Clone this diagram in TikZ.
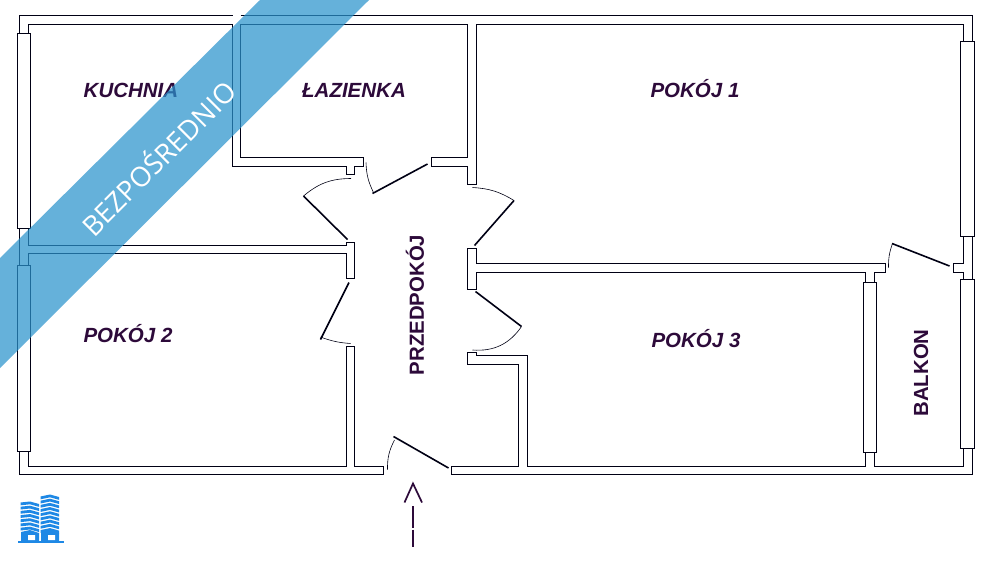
\documentclass[tikz,border=0pt]{standalone}
\usepackage{fontspec}
\setmainfont{Liberation Sans}
\newfontfamily\bannerfont{Open Sans}
\tikzset{
    wall/.style={plan,line width=1.1pt,line join=miter},
    doorleaf/.style={plan,line width=1.6pt},
    doorswing/.style={plan,line width=0.6pt},
    roomlabel/.style={text=labelc,font=\bfseries\itshape\fontsize{20.5}{20.5}\selectfont,inner sep=0pt},
    hallabel/.style={text=labelc,font=\bfseries\fontsize{20.4}{20.4}\selectfont,inner sep=0pt,rotate=90}
}
\begin{document}
\begin{tikzpicture}[x=1pt,y=-1pt]
    %colores
    \colorlet{plan}{black!92!blue}
    \definecolor{labelc}{HTML}{2D0A3A}
    \definecolor{bannerc}{HTML}{2A93CD}
    \definecolor{logoc}{HTML}{1E88E5}

    \useasboundingbox[fill=white] (0,0) rectangle (996,560);

    % Muros exteriores
    \draw[wall] (19.5,33.5) -- (19.5,15.5) -- (232.5,15.5);
    \draw[wall] (240.5,15.5) -- (972.5,15.5) -- (972.5,41.5);
    \draw[wall] (972.5,236.5) -- (972.5,279.5);
    \draw[wall] (972.5,448.5) -- (972.5,474.5) -- (451.5,474.5) -- (451.5,466.5) -- (518.5,466.5)
        -- (518.5,364.5) -- (467.5,364.5) -- (467.5,352.5) -- (476.5,352.5) -- (476.5,355.5) -- (527.5,355.5)
        -- (527.5,466.5) -- (865.5,466.5) -- (865.5,452.5);
    \draw[wall] (874.5,452.5) -- (874.5,466.5) -- (963.5,466.5) -- (963.5,448.5);
    \draw[wall] (19.5,451.5) -- (19.5,474.5) -- (383.5,474.5) -- (383.5,466.5) -- (354.5,466.5)
        -- (354.5,346.5) -- (346.5,346.5) -- (346.5,466.5) -- (28.5,466.5) -- (28.5,451.5);
    \draw[wall] (19.5,228.5) -- (19.5,265.5);

    % Muros interiores
    \draw[wall] (28.5,33.5) -- (28.5,24.5) -- (232.5,24.5) -- (232.5,166.5) -- (346.5,166.5) -- (346.5,174.5)
        -- (354.5,174.5) -- (354.5,166.5) -- (363.5,166.5) -- (363.5,157.5) -- (240.5,157.5) -- (240.5,24.5)
        -- (467.5,24.5) -- (467.5,157.5) -- (431.5,157.5) -- (431.5,166.5) -- (467.5,166.5) -- (467.5,184.5)
        -- (476.5,184.5) -- (476.5,24.5) -- (963.5,24.5) -- (963.5,41.5);
    \draw[wall] (28.5,228.5) -- (28.5,245.5) -- (346.5,245.5) -- (346.5,242.5) -- (354.5,242.5)
        -- (354.5,278.5) -- (346.5,278.5) -- (346.5,253.5) -- (28.5,253.5) -- (28.5,265.5);
    \draw[wall] (865.5,282.5) -- (865.5,272.5) -- (476.5,272.5) -- (476.5,289.5) -- (467.5,289.5)
        -- (467.5,248.5) -- (476.5,248.5) -- (476.5,263.5) -- (885.5,263.5) -- (885.5,272.5) -- (874.5,272.5)
        -- (874.5,282.5);
    \draw[wall] (963.5,236.5) -- (963.5,263.5) -- (953.5,263.5) -- (953.5,272.5) -- (963.5,272.5) -- (963.5,279.5);

    % Ventanas
    \foreach \xa/\ya/\xb/\yb in {17.5/33.5/30.5/228.5, 17.5/265.5/30.5/451.5, 863.5/282.5/876.5/452.5,
        960.5/41.5/974.5/236.5, 960.5/279.5/974.5/448.5}
        \draw[wall] (\xa,\ya) rectangle (\xb,\yb);

    % Puertas
    \draw[doorleaf] (303.5,196) -- (347.5,239.5);
    \draw[doorswing] (351,178.5) to[bend right=20] (303.5,196);
    \draw[doorleaf] (372.5,193.5) -- (427.5,164);
    \draw[doorswing] (366,162.5) to[bend right=12] (373.5,192.5);
    \draw[doorleaf] (514,200.5) -- (474.5,245.5);
    \draw[doorswing] (472.5,187.5) to[bend left=14] (514,200.5);
    \draw[doorleaf] (349,282.5) -- (320.5,339.5);
    \draw[doorswing] (320.5,337) to[bend right=8] (350.5,343.5);
    \draw[doorleaf] (475.5,291.5) -- (521.5,326.5);
    \draw[doorswing] (521.5,326.5) to[bend left=30] (472.5,350);
    \draw[doorleaf] (393.5,436.5) -- (448.5,468);
    \draw[doorswing] (387.5,469.5) to[bend left=14] (394.5,440);
    \draw[doorleaf] (892,243.5) -- (949.5,266);
    \draw[doorswing] (888.5,267.5) to[bend left=10] (892.5,243.5);

    % Flecha de entrada
    \draw[labelc,line width=1.7pt] (404.5,502.5) -- (413,483.5) -- (422,502.5);
    \draw[labelc,line width=1.7pt] (413,506) -- (413,527.5) (413,529.5) -- (413,547);

    % Nombres
    \node[roomlabel] (kuchnia) at (131,90) {KUCHNIA};
    \node[roomlabel] (lazienka) at (354,90) {ŁAZIENKA};
    \node[roomlabel] (pokoj1) at (695,89) {POKÓJ 1};
    \node[roomlabel] (pokoj2) at (128,334) {POKÓJ 2};
    \node[roomlabel] (pokoj3) at (696,339) {POKÓJ 3};
    \node[hallabel] (przedpokoj) at (415,305) {PRZEDPOKÓJ};
    \node[hallabel] (balkon) at (921,373) {BALKON};

    % Logo
    \foreach \k in {0,...,6} {
        \fill[logoc,yshift=-4.2*\k pt] (20.5,502.5) -- (30,501.5) -- (39,504) -- (39,506.8) -- (30,504.3) -- (20.5,505.3) -- cycle;
    }
    \foreach \k in {0,...,8} {
        \fill[logoc,yshift=-4.2*\k pt] (40.5,496.5) -- (50,494.5) -- (59,497) -- (59,499.8) -- (50,497.3) -- (40.5,499.3) -- cycle;
    }
    \fill[logoc] (21,532) -- (30,530) -- (39,533) -- (39,541) -- (21,541) -- cycle;
    \fill[logoc] (41,532) -- (50,530) -- (59,533) -- (59,541) -- (41,541) -- cycle;
    \fill[white] (28,535) rectangle (35,540) (48,535) rectangle (55,540);
    \fill[logoc] (18,541) rectangle (64,543);

    % Banda diagonal
    \fill[bannerc,fill opacity=0.72] (0,258) -- (260,0) -- (369,0) -- (0,368) -- cycle;
    \node[text=white,font=\bannerfont\fontsize{27.5}{27.5}\selectfont,rotate=45,inner sep=0pt] (banda) at (157.5,157) {BEZPOŚREDNIO};
\end{tikzpicture}
\end{document}
